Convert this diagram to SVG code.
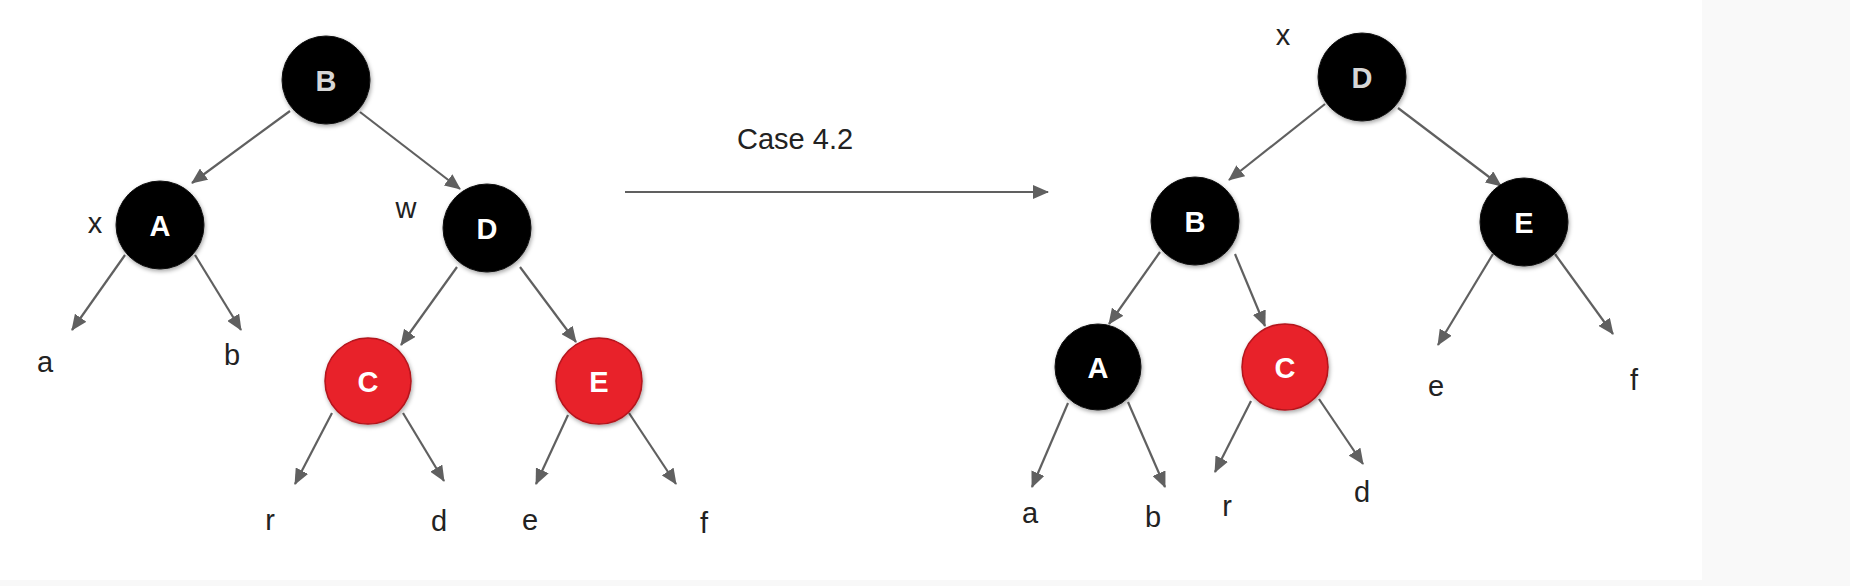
<svg xmlns="http://www.w3.org/2000/svg" width="1850" height="586" viewBox="0 0 1850 586">
<style>
.blk{fill:#000;stroke:#111;stroke-width:1}
.red{fill:#e8202a;stroke:#b3141b;stroke-width:1.5}
.nl{font-family:"Liberation Sans",Arial,sans-serif;font-weight:bold;font-size:29px;fill:#fff;text-anchor:middle}
.nl.g{fill:#d6d6d6}
.lb{font-family:"Liberation Sans",Arial,sans-serif;font-size:29px;fill:#222;text-anchor:middle}
.e{stroke:#606060;stroke-width:2.2;fill:none;marker-end:url(#ah)}
</style>
<defs>
<marker id="ah" markerWidth="16" markerHeight="14" refX="15" refY="7" orient="auto" markerUnits="userSpaceOnUse">
<path d="M0,0 L16,7 L0,14 z" fill="#606060"/>
</marker>
<filter id="sh" x="-30%" y="-30%" width="160%" height="160%">
<feDropShadow dx="1" dy="2" stdDeviation="2" flood-color="#000" flood-opacity="0.35"/>
</filter>
</defs>
<rect width="1850" height="586" fill="#fff"/>
<rect x="1702" y="0" width="148" height="586" fill="#f9f9f9"/>
<rect x="0" y="580" width="1850" height="6" fill="#f8f8f8"/>

<g id="connectors">
<line class="e" x1="290" y1="111" x2="192" y2="183"/>
<line class="e" x1="360" y1="112" x2="460" y2="189"/>
<line class="e" x1="125" y1="255" x2="72" y2="330"/>
<line class="e" x1="195" y1="255" x2="241" y2="330"/>
<line class="e" x1="457" y1="267" x2="401" y2="345"/>
<line class="e" x1="520" y1="267" x2="576" y2="342"/>
<line class="e" x1="332" y1="413" x2="295" y2="484"/>
<line class="e" x1="403" y1="413" x2="444" y2="481"/>
<line class="e" x1="568" y1="415" x2="536" y2="484"/>
<line class="e" x1="629" y1="413" x2="676" y2="484"/>
<line class="e" x1="625" y1="192" x2="1048" y2="192"/>
<line class="e" x1="1325" y1="104" x2="1229" y2="180"/>
<line class="e" x1="1398" y1="108" x2="1501" y2="186"/>
<line class="e" x1="1160" y1="252" x2="1109" y2="324"/>
<line class="e" x1="1235" y1="254" x2="1265" y2="326"/>
<line class="e" x1="1068" y1="403" x2="1032" y2="487"/>
<line class="e" x1="1128" y1="402" x2="1165" y2="487"/>
<line class="e" x1="1251" y1="401" x2="1215" y2="472"/>
<line class="e" x1="1319" y1="399" x2="1363" y2="464"/>
<line class="e" x1="1493" y1="254" x2="1438" y2="345"/>
<line class="e" x1="1555" y1="254" x2="1613" y2="334"/>
</g>

<g id="L-B"><circle class="blk" cx="326" cy="80" r="44" filter="url(#sh)"/><text class="nl g" x="326" y="91">B</text></g>
<g id="L-A"><circle class="blk" cx="160" cy="225" r="44" filter="url(#sh)"/><text class="nl" x="160" y="236">A</text></g>
<g id="L-D"><circle class="blk" cx="487" cy="228" r="44" filter="url(#sh)"/><text class="nl" x="487" y="239">D</text></g>
<g id="L-C"><circle class="red" cx="368" cy="381" r="43" filter="url(#sh)"/><text class="nl" x="368" y="392">C</text></g>
<g id="L-E"><circle class="red" cx="599" cy="381" r="43" filter="url(#sh)"/><text class="nl" x="599" y="392">E</text></g>

<g id="R-D"><circle class="blk" cx="1362" cy="77" r="44" filter="url(#sh)"/><text class="nl g" x="1362" y="88">D</text></g>
<g id="R-B"><circle class="blk" cx="1195" cy="221" r="44" filter="url(#sh)"/><text class="nl" x="1195" y="232">B</text></g>
<g id="R-E"><circle class="blk" cx="1524" cy="222" r="44" filter="url(#sh)"/><text class="nl" x="1524" y="233">E</text></g>
<g id="R-A"><circle class="blk" cx="1098" cy="367" r="43" filter="url(#sh)"/><text class="nl" x="1098" y="378">A</text></g>
<g id="R-C"><circle class="red" cx="1285" cy="367" r="43" filter="url(#sh)"/><text class="nl" x="1285" y="378">C</text></g>

<g id="labels">
<text class="lb" x="95" y="233">x</text>
<text class="lb" x="406" y="218">w</text>
<text class="lb" x="45" y="372">a</text>
<text class="lb" x="232" y="365">b</text>
<text class="lb" x="270" y="530">r</text>
<text class="lb" x="439" y="531">d</text>
<text class="lb" x="530" y="530">e</text>
<text class="lb" x="704" y="533">f</text>
<text class="lb" x="737" y="149" style="text-anchor:start">Case 4.2</text>
<text class="lb" x="1283" y="45">x</text>
<text class="lb" x="1030" y="523">a</text>
<text class="lb" x="1153" y="527">b</text>
<text class="lb" x="1227" y="516">r</text>
<text class="lb" x="1362" y="502">d</text>
<text class="lb" x="1436" y="396">e</text>
<text class="lb" x="1634" y="390">f</text>
</g>
</svg>
